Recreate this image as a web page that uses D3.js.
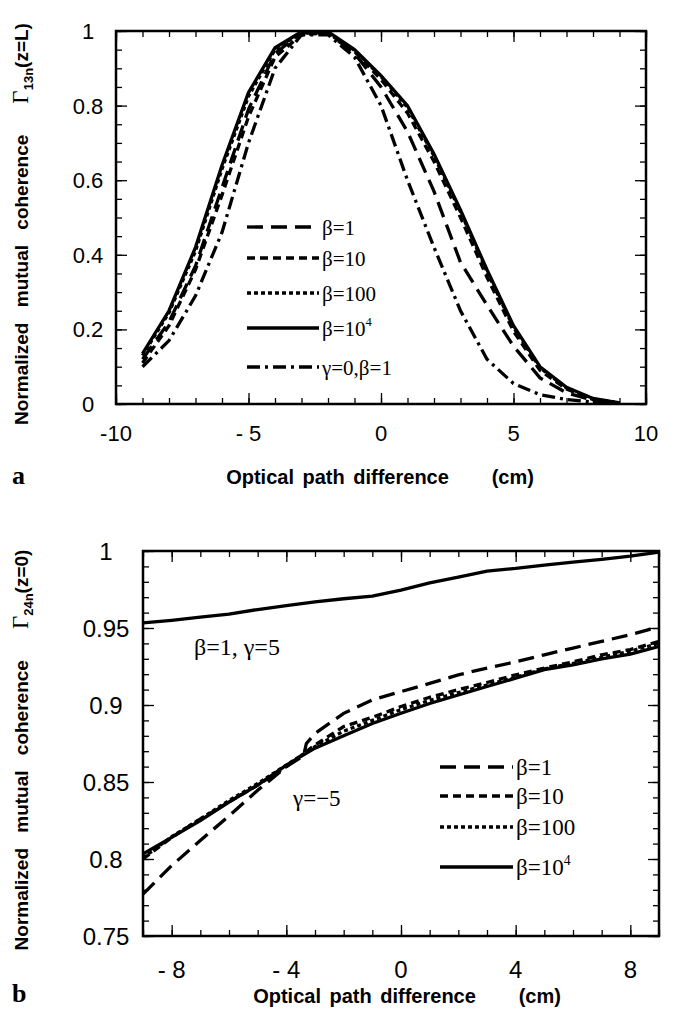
<!DOCTYPE html>
<head>
  <meta charset="utf-8">
  <script src="https://d3js.org/d3.v7.min.js"></script>
  <style>
    body { margin:0; background:#fff; }
    .domain { display:none; }
    .tick line { stroke:#000; stroke-width:1.3px; }
    text { white-space: pre; }
  </style>
</head>
<body>
<script>

/* Data */
/* ==== */

// panel a : Gamma13n(z=L)
var xA = [-9, -8, -7, -6, -5, -4, -3, -2, -1, 0, 1, 2, 3, 4, 5, 6, 7, 8, 9];
var aBeta1   = [0.12, 0.22, 0.37, 0.58, 0.79, 0.94, 0.995, 0.995, 0.94, 0.85, 0.73, 0.57, 0.38, 0.265, 0.155, 0.07, 0.03, 0.01, 0.002];
var aBeta10  = [0.11, 0.21, 0.36, 0.56, 0.77, 0.93, 0.99, 0.995, 0.945, 0.87, 0.78, 0.65, 0.50, 0.34, 0.195, 0.09, 0.04, 0.012, 0.003];
var aBeta100 = [0.13, 0.245, 0.41, 0.63, 0.825, 0.95, 0.995, 0.995, 0.948, 0.878, 0.795, 0.665, 0.515, 0.355, 0.205, 0.097, 0.043, 0.014, 0.003];
var aBeta1e4 = [0.135, 0.25, 0.42, 0.64, 0.835, 0.955, 0.998, 0.998, 0.95, 0.88, 0.80, 0.67, 0.52, 0.36, 0.21, 0.10, 0.045, 0.015, 0.003];
var aGamma0  = [0.10, 0.17, 0.29, 0.46, 0.70, 0.90, 0.99, 0.99, 0.93, 0.80, 0.60, 0.42, 0.25, 0.12, 0.055, 0.025, 0.012, 0.005, 0.002];

var aXTicks = [-10, -5, 0, 5, 10];
var aXLabels = ['-10', '- 5', '0', '5', '10'];
var aYTicks = [0, 0.2, 0.4, 0.6, 0.8, 1];
var aYLabels = ['0', '0.2', '0.4', '0.6', '0.8', '1'];

// panel b : Gamma24n(z=0)
var xB = [-9, -8, -7, -6, -5, -4, -3, -2, -1, 0, 1, 2, 3, 4, 5, 6, 7, 8, 9];
var bGamma5  = [0.9533, 0.955, 0.957, 0.959, 0.962, 0.9646, 0.967, 0.969, 0.9707, 0.9746, 0.9793, 0.983, 0.987, 0.9887, 0.9909, 0.9928, 0.9946, 0.9967, 0.9993];
var xB1 = [-9, -8, -7, -6, -5, -4, -3.4, -3.3, -3, -2, -1, 0, 1, 2, 3, 4, 5, 6, 7, 8, 9];
var bBeta1   = [0.7772, 0.7957, 0.812, 0.828, 0.8446, 0.86, 0.867, 0.875, 0.8815, 0.8946, 0.9033, 0.9087, 0.914, 0.9196, 0.924, 0.928, 0.9326, 0.937, 0.9413, 0.9457, 0.9507];
var bBeta10  = [0.800, 0.814, 0.826, 0.837, 0.848, 0.860, 0.874, 0.886, 0.892, 0.899, 0.905, 0.910, 0.9146, 0.9196, 0.924, 0.928, 0.9326, 0.936, 0.9413];
var bBeta100 = [0.8007, 0.8145, 0.826, 0.838, 0.849, 0.861, 0.873, 0.883, 0.890, 0.897, 0.903, 0.908, 0.913, 0.918, 0.9235, 0.927, 0.931, 0.935, 0.940];
var bBeta1e4 = [0.8033, 0.814, 0.825, 0.837, 0.848, 0.861, 0.872, 0.880, 0.888, 0.8946, 0.901, 0.9065, 0.912, 0.9174, 0.923, 0.926, 0.930, 0.933, 0.938];

var bXTicks = [-8, -4, 0, 4, 8];
var bXLabels = ['- 8', '- 4', '0', '4', '8'];
var bYTicks = [0.75, 0.8, 0.85, 0.9, 0.95, 1];
var bYLabels = ['0.75', '0.8', '0.85', '0.9', '0.95', '1'];

/* Set up */
/* ====== */

var width = 683, height = 1012;

var svg = d3.select('body')
  .append('svg')
    .attr('width', width)
    .attr('height', height);

var dashes = {
  long: '16,8',
  short: '8,5',
  dot: '4,3',
  solid: null,
  dashdot: '13,5,3,5'
};

function zip(xs, ys) {
  return xs.map(function(d, i) { return [d, ys[i]]; });
}

function panel(o) {
  var g = svg.append('g');

  var x = d3.scaleLinear().domain(o.xDomain).range([o.left, o.right]);
  var y = d3.scaleLinear().domain(o.yDomain).range([o.bottom, o.top]);

  // ticks on all four sides, pointing in
  function ticks(axisFn, scale, vals, len, tr) {
    g.append('g')
      .attr('transform', tr)
      .call(axisFn(scale).tickValues(vals).tickSize(-len).tickFormat(''));
  }
  var xMinor = x.ticks(o.xMinorCount), yMinor = y.ticks(o.yMinorCount);
  [[xMinor, 6], [o.xTicks, 11]].forEach(function(t) {
    ticks(d3.axisBottom, x, t[0], t[1], 'translate(0,' + o.bottom + ')');
    ticks(d3.axisTop, x, t[0], t[1], 'translate(0,' + o.top + ')');
  });
  [[yMinor, 6], [o.yTicks, 11]].forEach(function(t) {
    ticks(d3.axisLeft, y, t[0], t[1], 'translate(' + o.left + ',0)');
    ticks(d3.axisRight, y, t[0], t[1], 'translate(' + o.right + ',0)');
  });

  // frame
  g.append('rect')
    .attr('x', o.left).attr('y', o.top)
    .attr('width', o.right - o.left).attr('height', o.bottom - o.top)
    .attr('fill', 'none')
    .attr('stroke', '#000')
    .attr('stroke-width', 2.5);

  // tick labels
  g.selectAll('.xlab')
    .data(o.xTicks)
    .enter().append('text')
      .attr('x', function(d) { return x(d); })
      .attr('y', o.xLabelY)
      .attr('text-anchor', 'middle')
      .attr('font-family', 'Liberation Sans, Arial, sans-serif')
      .attr('font-size', o.tickFont)
      .text(function(d, i) { return o.xLabels[i]; });

  g.selectAll('.ylab')
    .data(o.yTicks)
    .enter().append('text')
      .attr('x', o.yLabelX)
      .attr('y', function(d) { return y(d); })
      .attr('dy', '0.36em')
      .attr('text-anchor', 'middle')
      .attr('font-family', 'Liberation Sans, Arial, sans-serif')
      .attr('font-size', o.tickFont)
      .text(function(d, i) { return o.yLabels[i]; });

  // curves
  var line = d3.line()
    .x(function(d) { return x(d[0]); })
    .y(function(d) { return y(d[1]); });

  o.series.forEach(function(s) {
    g.append('path')
      .datum(zip(s.x, s.y))
      .attr('d', line)
      .attr('fill', 'none')
      .attr('stroke', '#000')
      .attr('stroke-width', 3.3)
      .attr('stroke-dasharray', dashes[s.style]);
  });

  // legend
  o.legend.rows.forEach(function(r, i) {
    var ly = o.legend.ys[i];
    g.append('line')
      .attr('x1', o.legend.x1).attr('x2', o.legend.x2)
      .attr('y1', ly).attr('y2', ly)
      .attr('stroke', '#000')
      .attr('stroke-width', 3.3)
      .attr('stroke-dasharray', dashes[r.style]);
    var t = g.append('text')
      .attr('x', o.legend.x2 + 3)
      .attr('y', ly + o.legend.font * 0.36)
      .attr('font-family', 'Liberation Serif, Times New Roman, serif')
      .attr('font-size', o.legend.font);
    t.append('tspan').text(r.label);
    if (r.sup) {
      t.append('tspan')
        .attr('dy', -o.legend.font * 0.45)
        .attr('font-size', o.legend.font * 0.6)
        .text(r.sup);
    }
  });

  // y title
  var yt = g.append('text')
    .attr('transform', 'translate(' + o.yTitleX + ',' + o.yTitleY + ') rotate(-90)')
    .attr('text-anchor', 'middle')
    .attr('font-family', 'Liberation Sans, Arial, sans-serif')
    .attr('font-weight', 'bold')
    .attr('font-size', 19)
    .attr('word-spacing', 10);
  yt.append('tspan').text('Normalized mutual coherence ');
  yt.append('tspan')
    .attr('font-family', 'Liberation Serif, Times New Roman, serif')
    .attr('font-weight', 'normal')
    .attr('font-size', 23)
    .text(' \u0393');
  yt.append('tspan')
    .attr('font-size', 13)
    .attr('dy', 5)
    .text(o.sub);
  yt.append('tspan')
    .attr('dy', -5)
    .text(o.arg);

  // x title
  g.append('text')
    .attr('x', o.xTitleX)
    .attr('y', o.xTitleY)
    .attr('text-anchor', 'middle')
    .attr('font-family', 'Liberation Sans, Arial, sans-serif')
    .attr('font-weight', 'bold')
    .attr('font-size', 20)
    .attr('word-spacing', 3)
    .text('Optical path difference     (cm)');

  // panel letter
  g.append('text')
    .attr('x', 12)
    .attr('y', o.letterY)
    .attr('font-family', 'Liberation Serif, Times New Roman, serif')
    .attr('font-weight', 'bold')
    .attr('font-size', 26)
    .text(o.letter);

  return { x: x, y: y, g: g };
}

/* Panel a */
/* ======= */

panel({
  left: 116, right: 646, top: 31, bottom: 404,
  xDomain: [-10, 10], yDomain: [0, 1],
  xMinorCount: 20, yMinorCount: 20,
  xTicks: aXTicks, xLabels: aXLabels,
  yTicks: aYTicks, yLabels: aYLabels,
  tickFont: 22, xLabelY: 441, yLabelX: 88,
  series: [
    { x: xA, y: aBeta1, style: 'long' },
    { x: xA, y: aBeta10, style: 'short' },
    { x: xA, y: aBeta100, style: 'dot' },
    { x: xA, y: aBeta1e4, style: 'solid' },
    { x: xA, y: aGamma0, style: 'dashdot' }
  ],
  legend: {
    x1: 247, x2: 319, font: 21,
    ys: [227, 258, 293, 328, 367],
    rows: [
      { style: 'long', label: '\u03b2=1' },
      { style: 'short', label: '\u03b2=10' },
      { style: 'dot', label: '\u03b2=100' },
      { style: 'solid', label: '\u03b2=10', sup: '4' },
      { style: 'dashdot', label: '\u03b3=0,\u03b2=1' }
    ]
  },
  yTitleX: 28, yTitleY: 224, sub: '13n', arg: '(z=L)',
  xTitleX: 380, xTitleY: 484, letter: 'a', letterY: 484
});

/* Panel b */
/* ======= */

var pb = panel({
  left: 143, right: 659, top: 551, bottom: 936,
  xDomain: [-9, 9], yDomain: [0.75, 1],
  xMinorCount: 18, yMinorCount: 25,
  xTicks: bXTicks, xLabels: bXLabels,
  yTicks: bYTicks, yLabels: bYLabels,
  tickFont: 24, xLabelY: 978, yLabelX: 106,
  series: [
    { x: xB, y: bGamma5, style: 'solid' },
    { x: xB1, y: bBeta1, style: 'long' },
    { x: xB, y: bBeta10, style: 'short' },
    { x: xB, y: bBeta100, style: 'dot' },
    { x: xB, y: bBeta1e4, style: 'solid' }
  ],
  legend: {
    x1: 440, x2: 513, font: 23,
    ys: [767, 796, 827, 867],
    rows: [
      { style: 'long', label: '\u03b2=1' },
      { style: 'short', label: '\u03b2=10' },
      { style: 'dot', label: '\u03b2=100' },
      { style: 'solid', label: '\u03b2=10', sup: '4' }
    ]
  },
  yTitleX: 28, yTitleY: 750, sub: '24n', arg: '(z=0)',
  xTitleX: 407, xTitleY: 1003, letter: 'b', letterY: 1002
});

// curve annotations
pb.g.append('text')
  .attr('x', 194).attr('y', 655)
  .attr('font-family', 'Liberation Serif, Times New Roman, serif')
  .attr('font-size', 24)
  .text('\u03b2=1, \u03b3=5');

pb.g.append('text')
  .attr('x', 293).attr('y', 806)
  .attr('font-family', 'Liberation Serif, Times New Roman, serif')
  .attr('font-size', 23)
  .text('\u03b3=\u22125');

</script>
</body>
